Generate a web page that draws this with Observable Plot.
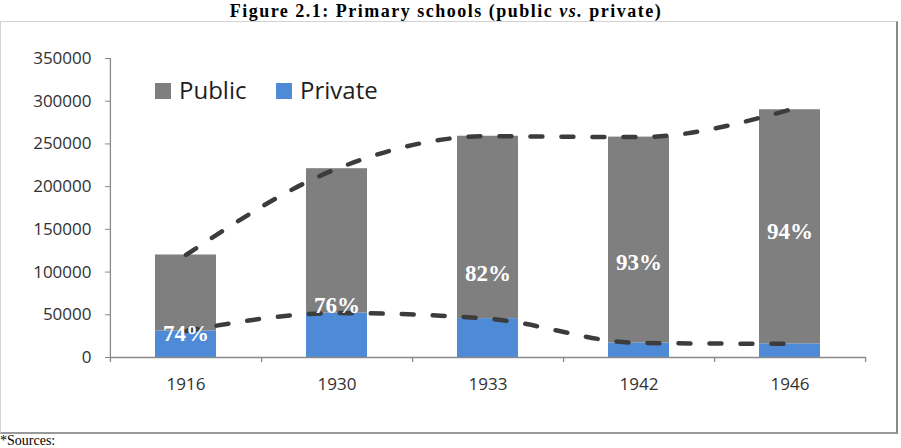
<!DOCTYPE html>
<html>
<head>
<meta charset="utf-8">
<script src="https://cdn.jsdelivr.net/npm/d3@7"></script>
<script src="https://cdn.jsdelivr.net/npm/@observablehq/plot@0.6"></script>
<style>
  html, body { margin: 0; padding: 0; background: #fff; }
  #page { position: relative; width: 901px; height: 448px; overflow: hidden; background: #fff; }
  #title { position: absolute; left: 0; top: 1px; width: 892px; text-align: center;
           font: bold 18px/20px "Liberation Serif", serif; letter-spacing: 1.5px;
           color: #000; white-space: nowrap; }
  #box { position: absolute; left: 0; top: 21px; width: 895px; height: 410px;
         border-top: 1px solid #d2d2d2; border-left: 1px solid #d2d2d2;
         border-right: 2px solid #8a8a8a; border-bottom: 2px solid #9a9a9a; }
  #chart { position: absolute; left: 0; top: 0; }
  .key { position: absolute; top: 83px; width: 16px; height: 16px; }
  .key-label { position: absolute; top: 78px; font: 24px/24px "Open Sans", sans-serif; color: #1e1e1e; white-space: nowrap; }
  #sources { position: absolute; left: 0; top: 434px; font: 14px/14px "Liberation Serif", serif; color: #000; }
  g[aria-label="y-axis tick"] { stroke: #8a8a8a; }
</style>
</head>
<body>
<div id="page">
  <div id="title">Figure 2.1: Primary schools (public <i>vs.</i> private)</div>
  <div id="box"></div>
  <div id="chart"></div>
  <div id="legend"></div>
  <div id="sources">*Sources:</div>
</div>
<script>
// Primary school pupils by year, split into public and private schools
const years = ["1916", "1930", "1933", "1942", "1946"];
const publicSchools = [89000, 169000, 213500, 241000, 274000];
const privateSchools = [31000, 52000, 45500, 17000, 16000];
const yTicks = [0, 50000, 100000, 150000, 200000, 250000, 300000, 350000];
const seriesNames = ["Public", "Private"];

const GRAY = "#7f7f7f";
const BLUE = "#4f8ad6";
const AXIS = "#8a8a8a";
const LINE = "#3c3c3c";

// Stacked rows: private at the bottom, public on top
const rows = years.flatMap((year, i) => [
  {year, type: "Private", value: privateSchools[i]},
  {year, type: "Public", value: publicSchools[i]}
]);

// Per-year totals and the public share of pupils
const perYear = years.map((year, i) => {
  const total = publicSchools[i] + privateSchools[i];
  return {
    year,
    total,
    private: privateSchools[i],
    share: Math.round(100 * publicSchools[i] / total) + "%"
  };
});

// Height (in pupils) at which each share label is set
const labelAt = [28100, 60300, 98300, 111600, 147500];

const W = 901, H = 448, mL = 110, mR = 35, mT = 58, mB = 91;
const halfStep = (W - mL - mR) / years.length / 2;

const chart = Plot.plot({
  width: W,
  height: H,
  marginLeft: mL,
  marginRight: mR,
  marginTop: mT,
  marginBottom: mB,
  style: {fontFamily: "'Open Sans', sans-serif", fontSize: "17px", color: "#303030", background: "transparent"},
  x: {type: "band", domain: years, paddingInner: 0.593, paddingOuter: 0.2965,
      tickSize: 0, tickPadding: 20, label: null},
  y: {domain: [0, 350000], ticks: yTicks, tickSize: 5, tickPadding: 14,
      tickFormat: d => String(d), label: null},
  color: {domain: ["Private", "Public"], range: [BLUE, GRAY]},
  marks: [
    Plot.barY(rows, {x: "year", y: "value", fill: "type"}),
    Plot.ruleY([0], {stroke: AXIS, strokeWidth: 1.3}),
    Plot.ruleX([years[0]], {dx: -halfStep, y1: 0, y2: 350000, insetTop: 5, stroke: AXIS, strokeWidth: 1.3}),
    Plot.ruleX(years, {dx: halfStep, y1: 0, y2: 0, insetTop: 5, stroke: AXIS, strokeWidth: 1.3}),
    Plot.lineY(perYear, {x: "year", y: "total", curve: "monotone-x", stroke: LINE,
      strokeWidth: 4.5, strokeDasharray: "12,19", strokeLinecap: "round"}),
    Plot.lineY(perYear, {x: "year", y: "private", curve: "monotone-x", stroke: LINE,
      strokeWidth: 4.5, strokeDasharray: "12,19", strokeLinecap: "round"}),
    Plot.text(perYear, {x: "year", y: (d, i) => labelAt[i], text: "share", fill: "white",
      fontFamily: "'Liberation Serif', serif", fontWeight: "bold", fontSize: 23})
  ]
});
document.getElementById("chart").appendChild(chart);

// Legend inside the plot area, top left
const legend = document.getElementById("legend");
const keyColors = {Public: GRAY, Private: BLUE};
const keyLeft = {Public: 155, Private: 276};
seriesNames.forEach(name => {
  const sw = document.createElement("div");
  sw.className = "key";
  sw.style.left = keyLeft[name] + "px";
  sw.style.background = keyColors[name];
  legend.appendChild(sw);
  const lab = document.createElement("div");
  lab.className = "key-label";
  lab.style.left = (keyLeft[name] + 24) + "px";
  lab.textContent = name;
  legend.appendChild(lab);
});
</script>
</body>
</html>
